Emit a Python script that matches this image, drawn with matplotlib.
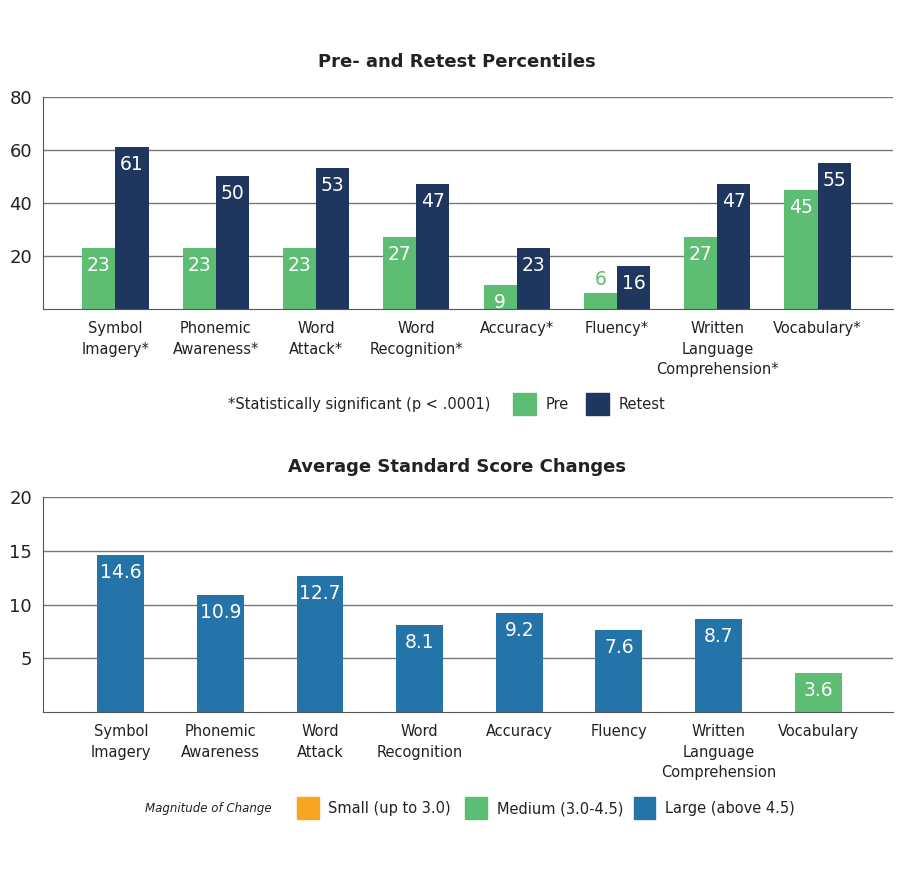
import numpy as np
import matplotlib
matplotlib.use('Agg')
import matplotlib.pyplot as plt
from matplotlib.patches import Rectangle

# data
categories_top = ['Symbol\nImagery*', 'Phonemic\nAwareness*', 'Word\nAttack*', 'Word\nRecognition*',
                  'Accuracy*', 'Fluency*', 'Written\nLanguage\nComprehension*', 'Vocabulary*']
pre = [23, 23, 23, 27, 9, 6, 27, 45]
retest = [61, 50, 53, 47, 23, 16, 47, 55]

categories_bottom = ['Symbol\nImagery', 'Phonemic\nAwareness', 'Word\nAttack', 'Word\nRecognition',
                     'Accuracy', 'Fluency', 'Written\nLanguage\nComprehension', 'Vocabulary']
changes = [14.6, 10.9, 12.7, 8.1, 9.2, 7.6, 8.7, 3.6]
magnitude = ['Large', 'Large', 'Large', 'Large', 'Large', 'Large', 'Large', 'Medium']

GREEN = '#5cbd73'
NAVY = '#1f375f'
BLUE = '#2474a9'
ORANGE = '#f6a623'
mag_colors = {'Small': ORANGE, 'Medium': GREEN, 'Large': BLUE}

plt.rcParams['font.family'] = ['DejaVu Sans']
TXT = '#222222'
NUMSIZE = 13.5

fig = plt.figure(figsize=(9, 8.8), dpi=100)


def style_axes(ax):
    for s in ['top', 'right']:
        ax.spines[s].set_visible(False)
    ax.spines['left'].set_color('#555555')
    ax.spines['bottom'].set_color('#555555')
    ax.yaxis.grid(True, color='#777777', linewidth=1)
    ax.set_axisbelow(True)
    ax.tick_params(axis='both', length=0, colors=TXT)
    ax.tick_params(axis='y', labelsize=13, pad=8)
    ax.tick_params(axis='x', labelsize=10.5, pad=9)


# top chart
ax1 = fig.add_axes([0.048, 0.649, 0.944, 0.241])
x = np.arange(len(categories_top))
w = 0.33
ax1.bar(x - w / 2, pre, w, color=GREEN)
ax1.bar(x + w / 2, retest, w, color=NAVY)
ax1.set_ylim(0, 80)
ax1.set_yticks([20, 40, 60, 80])
ax1.set_xlim(-0.72, 7.75)
ax1.set_xticks(x)
ax1.set_xticklabels(categories_top, linespacing=1.45)
style_axes(ax1)
for xi, v in zip(x, pre):
    if v >= 8:
        ax1.text(xi - w / 2, v - 3, str(v), ha='center', va='top', color='white',
                 fontsize=NUMSIZE)
    else:
        ax1.text(xi - w / 2, v + 1.5, str(v), ha='center', va='bottom', color=GREEN,
                 fontsize=NUMSIZE)
for xi, v in zip(x, retest):
    ax1.text(xi + w / 2, v - 3, str(v), ha='center', va='top', color='white',
             fontsize=NUMSIZE)
fig.text(0.508, 0.930, 'Pre- and Retest Percentiles', ha='center', va='center',
         fontsize=13, fontweight='bold', color=TXT)

# top legend
fig.text(0.253, 0.540, '*Statistically significant (p < .0001)', ha='left', va='center',
         fontsize=10.5, color=TXT)
for x0, lbl, col in [(0.570, 'Pre', GREEN), (0.651, 'Retest', NAVY)]:
    fig.patches.append(Rectangle((x0, 0.528), 0.026, 0.025, transform=fig.transFigure,
                                 color=col, figure=fig))
    fig.text(x0 + 0.036, 0.540, lbl, ha='left', va='center', fontsize=10.5, color=TXT)

# bottom chart
ax2 = fig.add_axes([0.048, 0.191, 0.944, 0.244])
xb = np.arange(len(categories_bottom))
ax2.bar(xb, changes, 0.47, color=[mag_colors[m] for m in magnitude])
ax2.set_ylim(0, 20)
ax2.set_yticks([5, 10, 15, 20])
ax2.set_xlim(-0.78, 7.75)
ax2.set_xticks(xb)
ax2.set_xticklabels(categories_bottom, linespacing=1.45)
style_axes(ax2)
for xi, v in zip(xb, changes):
    ax2.text(xi, v - 0.75, '%.1f' % v, ha='center', va='top', color='white',
             fontsize=NUMSIZE)
fig.text(0.508, 0.469, 'Average Standard Score Changes', ha='center', va='center',
         fontsize=13, fontweight='bold', color=TXT)

# bottom legend
fig.text(0.161, 0.081, 'Magnitude of Change', ha='left', va='center',
         fontsize=8.5, style='italic', color=TXT)
for x0, lbl, col in [(0.330, 'Small (up to 3.0)', ORANGE),
                     (0.517, 'Medium (3.0-4.5)', GREEN),
                     (0.704, 'Large (above 4.5)', BLUE)]:
    fig.patches.append(Rectangle((x0, 0.069), 0.024, 0.025, transform=fig.transFigure,
                                 color=col, figure=fig))
    fig.text(x0 + 0.035, 0.081, lbl, ha='left', va='center', fontsize=10.5, color=TXT)

fig.savefig('out.png', dpi=100)
